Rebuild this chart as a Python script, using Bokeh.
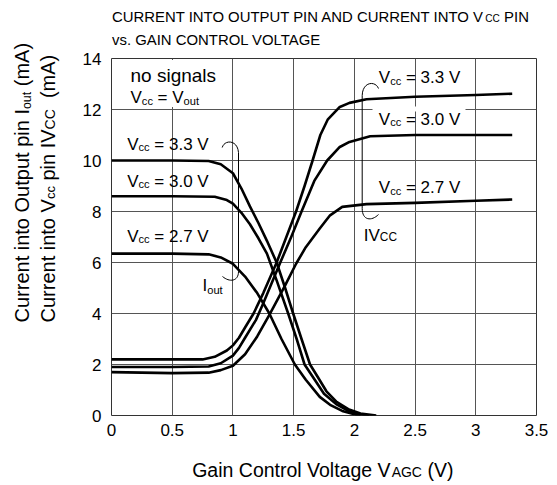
from bokeh.plotting import figure
from bokeh.layouts import column, row
from bokeh.models import Range1d, FixedTicker, Label
from bokeh.embed import file_html
from bokeh.resources import INLINE

# ---------------- data ----------------
x_ticks = [0, 0.5, 1, 1.5, 2, 2.5, 3, 3.5]
x_tick_labels = ["0", "0.5", "1", "1.5", "2", "2.5", "3", "3.5"]
y_ticks = [0, 2, 4, 6, 8, 10, 12, 14]
y_tick_labels = ["0", "2", "4", "6", "8", "10", "12", "14"]

# Iout (decreasing curves)
iout_33_x = [0, 0.5, 0.8, 0.9, 1.0, 1.07, 1.14, 1.21, 1.28, 1.36, 1.43, 1.496, 1.565, 1.635, 1.70, 1.77, 1.85, 1.95, 2.05, 2.18]
iout_33_y = [10.0, 10.0, 9.98, 9.85, 9.5, 8.9, 8.2, 7.55, 6.85, 6.0, 5.0, 4.0, 3.0, 2.0, 1.5, 0.95, 0.55, 0.25, 0.08, 0.0]
iout_30_x = [0, 0.5, 0.85, 0.95, 1.0, 1.07, 1.14, 1.21, 1.28, 1.36, 1.455, 1.525, 1.59, 1.66, 1.75, 1.85, 1.95, 2.05, 2.12]
iout_30_y = [8.6, 8.6, 8.58, 8.45, 8.31, 7.95, 7.5, 6.95, 6.35, 5.3, 4.0, 3.0, 2.0, 1.5, 0.85, 0.45, 0.18, 0.05, 0.0]
iout_27_x = [0, 0.5, 0.8, 0.9, 1.0, 1.1, 1.2, 1.3, 1.4, 1.51, 1.6, 1.715, 1.8, 1.9, 2.0, 2.05]
iout_27_y = [6.35, 6.35, 6.32, 6.2, 5.95, 5.45, 4.8, 4.0, 3.0, 2.0, 1.4, 0.73, 0.42, 0.18, 0.05, 0.0]

# IVcc (increasing curves)
ivcc_33_x = [0, 0.5, 0.75, 0.85, 0.95, 1.0, 1.05, 1.1, 1.17, 1.25, 1.36, 1.44, 1.52, 1.59, 1.656, 1.72, 1.78, 1.88, 1.96, 2.1, 2.5, 3.0, 3.3]
ivcc_33_y = [2.2, 2.2, 2.2, 2.3, 2.55, 2.75, 3.05, 3.45, 4.0, 4.8, 6.0, 7.0, 8.0, 9.0, 10.0, 11.0, 11.6, 12.1, 12.26, 12.4, 12.5, 12.57, 12.62]
ivcc_30_x = [0, 0.5, 0.8, 0.9, 1.0, 1.05, 1.1, 1.19, 1.25, 1.39, 1.48, 1.565, 1.67, 1.776, 1.88, 1.96, 2.13, 2.5, 3.0, 3.3]
ivcc_30_y = [1.9, 1.9, 1.92, 2.05, 2.35, 2.65, 3.05, 3.75, 4.4, 6.0, 7.0, 8.0, 9.2, 10.0, 10.53, 10.73, 10.95, 11.0, 11.0, 11.0]
ivcc_27_x = [0, 0.5, 0.8, 0.9, 1.0, 1.1, 1.2, 1.3, 1.43, 1.52, 1.6, 1.715, 1.8, 1.9, 2.1, 2.5, 3.0, 3.3]
ivcc_27_y = [1.7, 1.66, 1.68, 1.78, 1.95, 2.4, 3.1, 3.95, 5.1, 5.95, 6.6, 7.33, 7.85, 8.18, 8.29, 8.34, 8.42, 8.47]

series = [
    (iout_33_x, iout_33_y), (iout_30_x, iout_30_y), (iout_27_x, iout_27_y),
    (ivcc_33_x, ivcc_33_y), (ivcc_30_x, ivcc_30_y), (ivcc_27_x, ivcc_27_y),
]

# ---------------- layout (page pixels) ----------------
PW, PH = 557, 485
FL, FT, FW, FH = 111, 58, 425, 357      # plot frame on the page
TOP_H = 48                              # title strip height
YL_W = 76                               # y-label strip width
RW = PW - YL_W                          # width of the right column
B_TOP, B_BOT = FT - TOP_H, 34
B_LEFT = FL - YL_W
B_RIGHT = PW - FL - FW
MAIN_H = B_TOP + FH + B_BOT
XL_H = PH - TOP_H - MAIN_H

X0, X1, Y0, Y1 = 0, 3.5, 0, 14
UX = FW / (X1 - X0)
UY = FH / (Y1 - Y0)

FONT = "Liberation Sans"
MID = 0.347   # distance from baseline to text middle, in em

W = {' ': 278, '(': 333, ')': 333, '.': 278, '=': 584,
     'A': 667, 'B': 667, 'C': 722, 'D': 722, 'E': 667, 'F': 611, 'G': 778, 'H': 722,
     'I': 278, 'J': 500, 'K': 667, 'L': 556, 'M': 833, 'N': 722, 'O': 778, 'P': 667,
     'Q': 778, 'R': 722, 'S': 667, 'T': 611, 'U': 722, 'V': 667, 'W': 944, 'X': 667,
     'Y': 667, 'Z': 611,
     'a': 556, 'b': 556, 'c': 500, 'd': 556, 'e': 556, 'f': 278, 'g': 556, 'h': 556,
     'i': 222, 'j': 222, 'k': 500, 'l': 222, 'm': 833, 'n': 556, 'o': 556, 'p': 556,
     'q': 556, 'r': 333, 's': 500, 't': 278, 'u': 556, 'v': 500, 'w': 722, 'x': 500,
     'y': 500, 'z': 500}


def tw(s, f):
    return sum(W.get(c, 556) for c in s) * f / 1000.0


def main_map(px, py):
    return X0 + (px - FL) / UX, Y0 + (FT + FH - py) / UY


def strip_map(oy, h):
    # strips whose x range is expressed in page pixels
    def m(px, py):
        return px, (oy + h) - py
    return m


def put(fig, mp, pieces, x0, y0, fs, angle=0.0):
    """pieces: (text, size ratio, downward baseline shift as fraction of fs).
    (x0, y0): page position of the start of the baseline."""
    ax, ay = mp(x0, y0)
    cum = 0.0
    for txt, r, sh in pieces:
        f = fs * r
        lead = len(txt) - len(txt.lstrip(" "))
        cum += tw(" " * lead, f)
        body = txt.strip(" ")
        up = MID * f - sh * fs
        if angle == 0.0:
            xo, yo = cum, up
        else:
            xo, yo = -up, cum
        fig.add_layout(Label(x=ax, y=ay, x_offset=xo, y_offset=yo,
                             text=body, angle=angle, text_font=FONT,
                             text_font_size=f"{f:.1f}px", text_color="black",
                             text_baseline="middle", text_align="left"))
        cum += tw(body, f)
        trail = len(txt) - len(txt.rstrip(" "))
        cum += tw(" " * trail, f)


def text_fig(w, h, xr):
    f = figure(width=w, height=h, x_range=xr, y_range=Range1d(0, h),
               x_axis_type=None, y_axis_type=None, title=None, min_border=0,
               output_backend="svg", toolbar_location=None)
    f.outline_line_color = None
    f.background_fill_color = "white"
    f.border_fill_color = "white"
    return f


# ---------------- main plot ----------------
p = figure(frame_width=FW, frame_height=FH, title=None,
           min_border_left=B_LEFT, min_border_top=B_TOP,
           min_border_right=B_RIGHT, min_border_bottom=B_BOT,
           x_range=Range1d(X0, X1), y_range=Range1d(Y0, Y1),
           output_backend="svg", toolbar_location=None)

p.background_fill_color = "white"
p.border_fill_color = "white"
p.outline_line_color = "#333333"
p.outline_line_width = 1

p.xaxis.ticker = FixedTicker(ticks=x_ticks)
p.yaxis.ticker = FixedTicker(ticks=y_ticks)
p.xaxis.major_label_overrides = {t: l for t, l in zip(x_ticks, x_tick_labels)}
p.yaxis.major_label_overrides = {t: l for t, l in zip(y_ticks, y_tick_labels)}
for ax in (p.xaxis, p.yaxis):
    ax.axis_line_color = None
    ax.major_tick_line_color = None
    ax.minor_tick_line_color = None
    ax.major_tick_out = 0
    ax.major_tick_in = 0
    ax.major_label_text_font = FONT
    ax.major_label_text_font_size = "17px"
    ax.major_label_text_color = "black"
p.xaxis.major_label_standoff = 8
p.yaxis.major_label_standoff = 10

for g in (p.xgrid, p.ygrid):
    g.grid_line_color = "#555555"
    g.grid_line_width = 1
    g.grid_line_alpha = 1.0

mm = main_map
# white patches behind some annotations (cover grid lines)
a0, b0 = mm(118, 59.5)
a1, b1 = mm(229, 106.5)
p.quad(left=[a0], right=[a1], top=[b0], bottom=[b1], fill_color="white", line_color=None)
a0, b0 = mm(372, 106)
a1, b1 = mm(465, 111)
p.quad(left=[a0], right=[a1], top=[b0], bottom=[b1], fill_color="white", line_color=None)

# curves
for xs, ys in series:
    p.line(xs, ys, line_color="black", line_width=2.6, line_join="round")

# brackets (page-pixel control points)
hooks = [  # start, ctrl1, ctrl2, end
    ((221.7, 147), (224, 139), (237, 139), (238, 152)),
    ((238, 271), (238, 281), (229, 282), (222, 276)),
    ((378, 88), (375, 80), (362, 81), (361.7, 95)),
    ((361.7, 208), (361.7, 220), (371, 221), (378, 214)),
]
hx = {k: [] for k in ("x0", "y0", "cx0", "cy0", "cx1", "cy1", "x1", "y1")}
for s, c0, c1, e in hooks:
    for (kx, ky), pt in zip((("x0", "y0"), ("cx0", "cy0"), ("cx1", "cy1"), ("x1", "y1")), (s, c0, c1, e)):
        u, v = mm(*pt)
        hx[kx].append(u)
        hx[ky].append(v)
p.bezier(line_color="black", line_width=1, **hx)
vx0, vy0, vx1, vy1 = [], [], [], []
for a, b in (((238, 152), (238, 271)), ((361.7, 95), (361.7, 208))):
    u, v = mm(*a)
    vx0.append(u)
    vy0.append(v)
    u, v = mm(*b)
    vx1.append(u)
    vy1.append(v)
p.segment(x0=vx0, y0=vy0, x1=vx1, y1=vy1, line_color="black", line_width=1)

LFS = 17
put(p, mm, [("no signals", 1, 0)], 130, 81.7, 19)
put(p, mm, [("V", 1, 0), ("cc", 0.65, 0.04), (" = V", 1, 0), ("out", 0.65, 0.08)], 130, 103.3, LFS)
for vv, by in (("3.3", 150), ("3.0", 186.7), ("2.7", 241.7)):
    put(p, mm, [("V", 1, 0), ("cc", 0.65, 0.04), (f" = {vv} V", 1, 0)], 126.7, by, LFS)
put(p, mm, [("I", 1, 0), ("out", 0.65, 0.12)], 202, 291, LFS)
for vv, by in (("3.3", 83.3), ("3.0", 125), ("2.7", 193.3)):
    put(p, mm, [("V", 1, 0), ("cc", 0.65, 0.04), (f" = {vv} V", 1, 0)], 378.3, by, LFS)
put(p, mm, [("IV", 1, 0), ("CC", 0.7, 0)], 363.3, 241, LFS)

# ---------------- title strip (frame is aligned with the plot frame) ----------------
tf = text_fig(RW, TOP_H, Range1d(FL, FL + FW))
tm = strip_map(0, TOP_H)
put(tf, tm, [("CURRENT INTO OUTPUT PIN AND CURRENT INTO V", 1, 0), ("CC", 0.68, 0), (" PIN", 1, 0)],
    111.5, 22, 14.9)
put(tf, tm, [("vs. GAIN CONTROL VOLTAGE", 1, 0)], 111.5, 44.3, 14.9)

# ---------------- y-label strip (full height) ----------------
yf = text_fig(YL_W, PH, Range1d(0, YL_W))
ym = strip_map(0, PH)
put(yf, ym, [("Current into Output pin I", 1, 0), ("out", 0.62, 0.12), (" (mA)", 1, 0)],
    28, 322, 20, angle=1.5707963)
put(yf, ym, [("Current into V", 1, 0), ("cc", 0.65, 0.04), (" pin IV", 1, 0), ("CC", 0.7, 0), ("  (mA)", 1, 0)],
    54, 322, 20, angle=1.5707963)

# ---------------- x-label strip ----------------
xf = text_fig(RW, XL_H, Range1d(FL, FL + FW))
xm = strip_map(TOP_H + MAIN_H, XL_H)
put(xf, xm, [("Gain Control Voltage V", 1, 0), ("AGC", 0.72, 0), (" (V)", 1, 0)], 191.7, 476, 19.5)

layout = row(yf, column(tf, p, xf, spacing=0), spacing=0)
open("out.html", "w").write(file_html(layout, INLINE))
